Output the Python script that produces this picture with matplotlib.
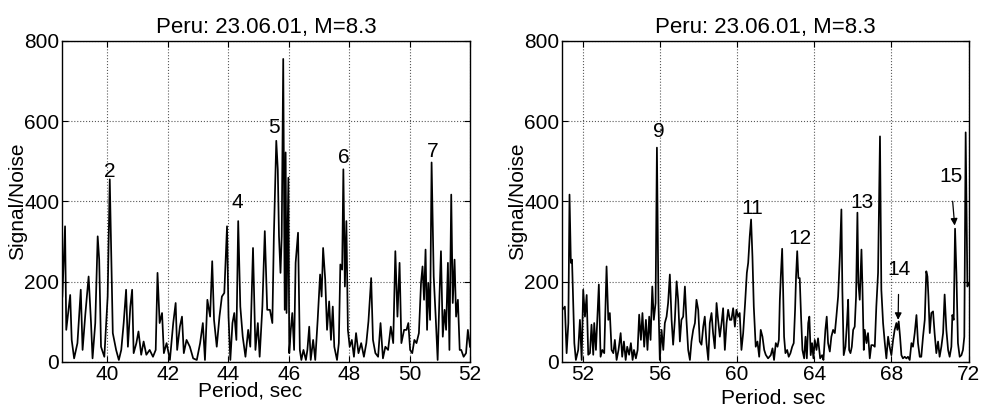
import matplotlib
matplotlib.use('Agg')
import matplotlib.pyplot as plt

plt.rcParams['font.family'] = ['Liberation Sans Narrow', 'Liberation Sans', 'DejaVu Sans']

# left panel: period (s) and signal/noise
left_period = [38.51, 38.60, 38.64, 38.77, 38.82, 38.90, 39.01, 39.12, 39.18, 39.27,
               39.38, 39.46, 39.51, 39.60, 39.68, 39.73, 39.79, 39.90, 40.01, 40.08,
               40.18, 40.29, 40.38, 40.46, 40.54, 40.62, 40.68, 40.76, 40.82, 40.87,
               40.96, 41.03, 41.12, 41.20, 41.29, 41.40, 41.51, 41.60, 41.66, 41.73,
               41.81, 41.87, 41.96, 42.07, 42.18, 42.26, 42.31, 42.40, 42.47, 42.53,
               42.62, 42.73, 42.84, 42.96, 43.07, 43.16, 43.23, 43.31, 43.40, 43.47,
               43.53, 43.62, 43.71, 43.79, 43.87, 43.96, 44.01, 44.07, 44.14, 44.20,
               44.27, 44.33, 44.40, 44.48, 44.57, 44.66, 44.73, 44.82, 44.90, 44.98,
               45.04, 45.13, 45.21, 45.29, 45.38, 45.46, 45.51, 45.59, 45.64, 45.68,
               45.73, 45.77, 45.82, 45.87, 45.90, 45.93, 45.99, 46.02, 46.07, 46.12,
               46.18, 46.23, 46.31, 46.37, 46.42, 46.49, 46.57, 46.62, 46.68, 46.73,
               46.81, 46.88, 46.96, 47.04, 47.09, 47.14, 47.21, 47.27, 47.34, 47.40,
               47.46, 47.51, 47.60, 47.66, 47.71, 47.77, 47.81, 47.86, 47.91, 47.96,
               48.02, 48.09, 48.16, 48.23, 48.31, 48.40, 48.49, 48.57, 48.64, 48.73,
               48.79, 48.87, 48.96, 49.04, 49.12, 49.20, 49.29, 49.38, 49.46, 49.53,
               49.60, 49.67, 49.73, 49.82, 49.90, 49.96, 50.02, 50.09, 50.16, 50.23,
               50.31, 50.38, 50.43, 50.48, 50.53, 50.58, 50.62, 50.68, 50.73, 50.80,
               50.87, 50.93, 50.99, 51.04, 51.10, 51.16, 51.21, 51.27, 51.32, 51.38,
               51.43, 51.49, 51.54, 51.60, 51.66, 51.71, 51.79, 51.87, 51.93, 52.00]
left_sn = [163, 338, 80, 167, 55, 9, 47, 180, 30, 118,
           213, 97, 9, 97, 313, 255, 38, 13, 163, 455,
           72, 30, 5, 30, 97, 180, 38, 138, 180, 22,
           47, 76, 18, 51, 18, 30, 13, 30, 222, 97,
           122, 22, 47, 5, 97, 147, 30, 88, 113, 22,
           55, 38, 9, 5, 47, 97, 5, 155, 113, 251,
           105, 38, 113, 163, 172, 338, 113, 5, 97, 122,
           55, 351, 138, 63, 13, 80, 38, 284, 30, 97,
           13, 138, 326, 130, 130, 97, 313, 551, 480, 313,
           222, 313, 755, 130, 522, 122, 459, 22, 80, 122,
           30, 247, 322, 30, 5, 30, 5, 30, 88, 5,
           55, 5, 105, 218, 163, 284, 205, 80, 151, 55,
           138, 38, 5, 47, 243, 230, 480, 188, 351, 80,
           38, 55, 13, 72, 22, 47, 13, 47, 101, 209,
           55, 22, 13, 97, 9, 38, 30, 88, 47, 276,
           113, 247, 47, 80, 80, 97, 30, 22, 55, 47,
           72, 197, 238, 155, 280, 80, 197, 105, 497, 213,
           105, 5, 163, 276, 63, 130, 80, 247, 30, 417,
           147, 255, 113, 155, 30, 30, 13, 22, 80, 38]

# right panel
right_period = [50.95, 51.08, 51.17, 51.26, 51.32, 51.39, 51.45, 51.51, 51.57, 51.65,
                51.77, 51.86, 51.95, 52.03, 52.12, 52.21, 52.29, 52.38, 52.46, 52.55,
                52.60, 52.69, 52.76, 52.84, 52.93, 53.02, 53.12, 53.24, 53.33, 53.41,
                53.50, 53.59, 53.67, 53.76, 53.86, 53.97, 54.05, 54.14, 54.23, 54.31,
                54.41, 54.50, 54.59, 54.66, 54.76, 54.85, 54.93, 55.02, 55.10, 55.19,
                55.28, 55.36, 55.45, 55.52, 55.61, 55.69, 55.78, 55.85, 55.93, 56.00,
                56.09, 56.18, 56.26, 56.35, 56.43, 56.52, 56.61, 56.69, 56.78, 56.87,
                56.95, 57.04, 57.12, 57.21, 57.30, 57.38, 57.47, 57.56, 57.64, 57.73,
                57.82, 57.90, 57.99, 58.07, 58.16, 58.25, 58.33, 58.42, 58.51, 58.59,
                58.68, 58.76, 58.85, 58.94, 59.02, 59.11, 59.20, 59.28, 59.37, 59.46,
                59.54, 59.63, 59.71, 59.80, 59.89, 59.97, 60.06, 60.14, 60.23, 60.32,
                60.42, 60.51, 60.58, 60.66, 60.73, 60.80, 60.87, 60.97, 61.06, 61.15,
                61.23, 61.32, 61.41, 61.49, 61.61, 61.75, 61.84, 61.92, 62.01, 62.10,
                62.17, 62.22, 62.27, 62.34, 62.39, 62.44, 62.51, 62.60, 62.68, 62.77,
                62.86, 62.94, 63.01, 63.06, 63.12, 63.18, 63.25, 63.32, 63.39, 63.48,
                63.55, 63.62, 63.69, 63.75, 63.82, 63.89, 63.96, 64.03, 64.12, 64.20,
                64.31, 64.41, 64.48, 64.58, 64.65, 64.72, 64.81, 64.89, 64.98, 65.07,
                65.15, 65.24, 65.33, 65.41, 65.46, 65.53, 65.62, 65.70, 65.76, 65.81,
                65.88, 65.95, 66.02, 66.10, 66.17, 66.24, 66.29, 66.36, 66.45, 66.50,
                66.57, 66.62, 66.71, 66.79, 66.88, 66.96, 67.05, 67.14, 67.22, 67.31,
                67.41, 67.48, 67.57, 67.66, 67.74, 67.83, 67.91, 68.00, 68.09, 68.17,
                68.26, 68.31, 68.38, 68.45, 68.52, 68.60, 68.69, 68.78, 68.86, 68.95,
                69.04, 69.12, 69.21, 69.30, 69.38, 69.47, 69.55, 69.64, 69.73, 69.81,
                69.87, 69.92, 69.99, 70.07, 70.16, 70.24, 70.33, 70.42, 70.50, 70.59,
                70.68, 70.76, 70.85, 70.94, 71.02, 71.11, 71.16, 71.23, 71.30, 71.37,
                71.45, 71.54, 71.63, 71.71, 71.78, 71.85, 71.94, 72.01]
right_sn = [130, 138, 22, 97, 417, 247, 255, 147, 47, 5,
            30, 105, 5, 180, 113, 167, 18, 22, 93, 18,
            97, 30, 105, 193, 13, 30, 22, 238, 105, 122,
            30, 22, 55, 5, 30, 72, 13, 51, 5, 38,
            18, 47, 5, 30, 9, 30, 118, 55, 122, 38,
            105, 30, 113, 55, 188, 105, 147, 534, 147, 5,
            80, 30, 97, 113, 147, 218, 105, 43, 105, 201,
            155, 51, 105, 113, 188, 105, 30, 5, 51, 80,
            97, 155, 130, 51, 43, 88, 113, 47, 5, 97,
            122, 72, 34, 147, 105, 63, 97, 134, 30, 97,
            130, 105, 105, 134, 88, 130, 113, 122, 30, 72,
            147, 222, 247, 313, 355, 263, 138, 38, 51, 13,
            80, 63, 30, 18, 9, 17, 34, 5, 47, 38,
            55, 155, 213, 282, 180, 63, 22, 30, 13, 22,
            38, 47, 130, 213, 276, 209, 209, 113, 30, 9,
            63, 9, 97, 113, 17, 47, 9, 55, 30, 59,
            9, 17, 5, 80, 113, 47, 26, 63, 80, 72,
            113, 163, 263, 380, 180, 17, 38, 97, 155, 30,
            22, 38, 80, 88, 163, 372, 197, 155, 280, 188,
            30, 80, 47, 72, 9, 42, 42, 38, 138, 222,
            562, 180, 97, 47, 9, 63, 38, 17, 55, 80,
            97, 80, 101, 63, 17, 9, 13, 9, 13, 5,
            47, 38, 72, 117, 47, 13, 13, 63, 105, 226,
            213, 163, 72, 122, 126, 72, 22, 51, 13, 38,
            72, 168, 80, 30, 13, 38, 117, 105, 332, 222,
            47, 13, 17, 30, 63, 572, 188, 197]

title = 'Peru: 23.06.01, M=8.3'
left_xticks = [40, 42, 44, 46, 48, 50, 52]
right_xticks = [52, 56, 60, 64, 68, 72]
yticks = [0, 200, 400, 600, 800]

# peak numbers: (label, period, s/n)
left_labels = [('2', 40.07, 474), ('4', 44.30, 397), ('5', 45.53, 584),
               ('6', 47.83, 509), ('7', 50.77, 524)]
right_labels = [('9', 55.95, 574), ('11', 60.77, 382), ('12', 63.25, 307),
                ('13', 66.47, 397)]
# arrowed labels: (label, text x, text y, tip x, tip y)
right_arrows = [('14', 68.39, 230, 68.35, 105), ('15', 71.07, 462, 71.28, 340)]

fig = plt.figure(figsize=(9.83, 4.07), dpi=100)
ax1 = fig.add_axes([0.0631, 0.1106, 0.415, 0.789])
ax2 = fig.add_axes([0.5717, 0.1106, 0.414, 0.789])

fs = 15
for ax in (ax1, ax2):
    ax.set_ylim(0, 800)
    ax.set_yticks(yticks)
    ax.grid(True, linestyle=':', color='0.35', linewidth=0.8)
    ax.tick_params(direction='in', top=True, right=True, length=4, labelsize=fs, pad=2)
    ax.set_title(title, fontsize=16, pad=6)
    ax.set_ylabel('Signal/Noise', fontsize=fs, labelpad=-2)
    for s in ax.spines.values():
        s.set_linewidth(1.0)

ax1.plot(left_period, left_sn, color='black', linewidth=1.25)
ax1.set_xlim(38.5, 52)
ax1.set_xticks(left_xticks)
ax1.set_xlabel('Period, sec', fontsize=fs)
ax1.xaxis.set_label_coords(0.46, -0.06)
for lab, x, y in left_labels:
    ax1.text(x, y, lab, fontsize=fs, ha='center', va='center')

ax2.plot(right_period, right_sn, color='black', linewidth=1.25)
ax2.set_xlim(50.93, 72.02)
ax2.set_xticks(right_xticks)
ax2.set_xlabel('Period. sec', fontsize=fs)
ax2.xaxis.set_label_coords(0.52, -0.085)
for lab, x, y in right_labels:
    ax2.text(x, y, lab, fontsize=fs, ha='center', va='center')
for lab, tx, ty, px, py in right_arrows:
    ax2.annotate(lab, xy=(px, py), xytext=(tx, ty), fontsize=fs, ha='center', va='center',
                 arrowprops=dict(arrowstyle='-|>', color='black', lw=0.9,
                                 mutation_scale=10, shrinkA=9, shrinkB=0))

fig.savefig('out.png', dpi=100)
